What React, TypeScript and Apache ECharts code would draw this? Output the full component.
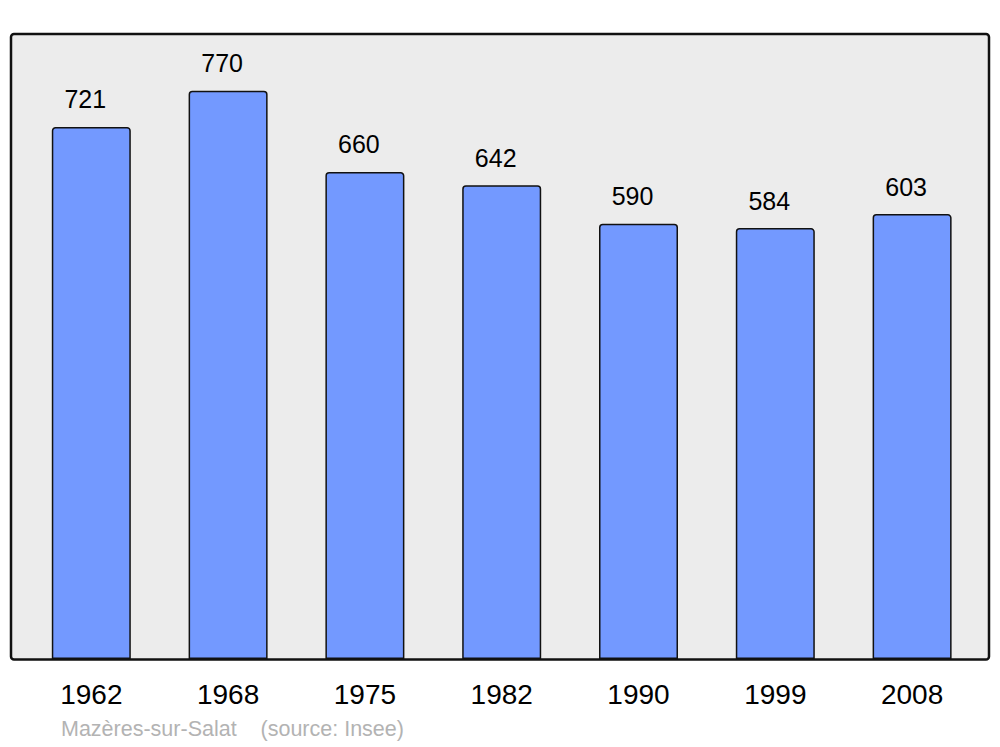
import React, { useEffect, useRef } from "react";
import * as echarts from "echarts";

const years = ["1962", "1968", "1975", "1982", "1990", "1999", "2008"];
const population = [721, 770, 660, 642, 590, 584, 603];
const footerText = "Mazères-sur-Salat    (source: Insee)";

export default function App() {
  const ref = useRef<HTMLDivElement>(null);
  useEffect(() => {
    if (!ref.current) return;
    const chart = echarts.init(ref.current, undefined, { renderer: "svg" });
    const font = "'Liberation Sans', Arial, sans-serif";
    chart.setOption({
      animation: false,
      backgroundColor: "#ffffff",
      grid: { left: 22.9, right: 19.5, top: 34, bottom: 88, containLabel: false },
      xAxis: {
        type: "category",
        data: years,
        axisLine: { show: false },
        axisTick: { show: false },
        axisLabel: { color: "#000", fontSize: 28, fontFamily: font, margin: 21 },
      },
      yAxis: {
        type: "value",
        min: 0,
        max: 847,
        show: false,
        splitLine: { show: false },
      },
      graphic: [
        {
          type: "rect",
          z: -10,
          shape: { x: 11, y: 34, width: 978, height: 626, r: 3 },
          style: { fill: "#ececec", stroke: "none" },
        },
        {
          type: "rect",
          z: 100,
          shape: { x: 11, y: 34, width: 978, height: 625.5, r: 3 },
          style: { fill: "none", stroke: "#111", lineWidth: 2.5 },
        },
        {
          type: "text",
          left: 61,
          top: 718,
          style: { text: footerText, fill: "#b3b3b3", fontSize: 21.5, fontFamily: font },
        },
      ],
      series: [
        {
          type: "bar",
          data: population,
          barWidth: 79,
          itemStyle: {
            color: "#7399ff",
            borderColor: "#111",
            borderWidth: 1.5,
            borderRadius: [3, 3, 0, 0],
          },
          label: {
            show: true,
            position: "top",
            distance: 15,
            offset: [-6, 0],
            color: "#000",
            fontSize: 25,
            fontFamily: font,
          },
        },
      ],
    });
    return () => chart.dispose();
  }, []);
  return (
    <div
      ref={ref}
      style={{ position: "fixed", left: 0, top: 0, width: 1000, height: 747 }}
    />
  );
}
